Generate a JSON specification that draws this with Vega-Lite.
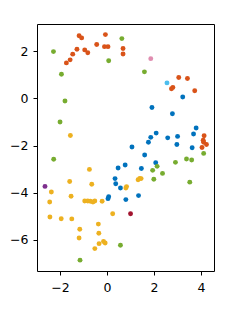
{
  "$schema": "https://vega.github.io/schema/vega-lite/v6.json",
  "autosize": "none",
  "width": 177,
  "height": 247,
  "padding": {"left": 37, "top": 24, "right": 29, "bottom": 43},
  "background": "white",
  "config": {
    "view": {"stroke": "black", "strokeWidth": 1},
    "axis": {"grid": false, "domain": false, "tickColor": "black", "tickSize": 4, "labelColor": "black", "labelFont": "DejaVu Sans", "labelFontSize": 12.5},
    "axisX": {"labelPadding": 6},
    "axisY": {"labelPadding": 5}
  },
  "data": {"values": [
    {"x": -2.28, "y": 1.99, "c": "g"},
    {"x": -1.94, "y": 1.03, "c": "g"},
    {"x": -1.79, "y": -0.11, "c": "g"},
    {"x": -2.0, "y": -1.0, "c": "g"},
    {"x": 0.63, "y": 2.54, "c": "g"},
    {"x": 0.07, "y": 1.6, "c": "g"},
    {"x": 1.59, "y": 1.13, "c": "g"},
    {"x": 1.86, "y": 1.69, "c": "p"},
    {"x": -1.73, "y": 1.51, "c": "o"},
    {"x": -1.57, "y": 1.64, "c": "o"},
    {"x": -1.46, "y": 1.88, "c": "o"},
    {"x": -1.28, "y": 2.09, "c": "o"},
    {"x": -1.19, "y": 2.66, "c": "o"},
    {"x": -1.08, "y": 2.57, "c": "o"},
    {"x": -0.95, "y": 2.06, "c": "o"},
    {"x": -0.82, "y": 1.94, "c": "o"},
    {"x": -0.44, "y": 2.29, "c": "o"},
    {"x": -0.07, "y": 2.71, "c": "o"},
    {"x": -0.11, "y": 2.2, "c": "o"},
    {"x": 0.04, "y": 2.2, "c": "o"},
    {"x": 0.68, "y": 2.12, "c": "o"},
    {"x": 0.68, "y": 1.89, "c": "o"},
    {"x": 3.05, "y": 0.89, "c": "o"},
    {"x": 3.42, "y": 0.85, "c": "o"},
    {"x": 2.8, "y": 0.47, "c": "o"},
    {"x": 2.74, "y": 0.41, "c": "o"},
    {"x": 3.73, "y": 0.33, "c": "o"},
    {"x": 2.55, "y": 0.66, "c": "lb"},
    {"x": 3.22, "y": 0.06, "c": "b"},
    {"x": 1.91, "y": -0.38, "c": "b"},
    {"x": 2.78, "y": -0.65, "c": "b"},
    {"x": 3.79, "y": -1.25, "c": "b"},
    {"x": -1.56, "y": -1.57, "c": "y"},
    {"x": -2.27, "y": -2.58, "c": "g"},
    {"x": 3.68, "y": -1.51, "c": "b"},
    {"x": 2.09, "y": -1.47, "c": "b"},
    {"x": 1.86, "y": -1.65, "c": "b"},
    {"x": 1.76, "y": -1.86, "c": "b"},
    {"x": 2.58, "y": -1.67, "c": "b"},
    {"x": 3.0, "y": -1.61, "c": "b"},
    {"x": 2.97, "y": -1.95, "c": "b"},
    {"x": 3.62, "y": -2.09, "c": "b"},
    {"x": 1.06, "y": -2.06, "c": "b"},
    {"x": 1.6, "y": -2.4, "c": "b"},
    {"x": 2.07, "y": -2.73, "c": "b"},
    {"x": 0.77, "y": -2.82, "c": "b"},
    {"x": 0.47, "y": -2.95, "c": "b"},
    {"x": 1.46, "y": -2.97, "c": "b"},
    {"x": 0.34, "y": -3.4, "c": "b"},
    {"x": 0.37, "y": -3.62, "c": "b"},
    {"x": 0.57, "y": -3.8, "c": "b"},
    {"x": 0.8, "y": -4.29, "c": "b"},
    {"x": 1.34, "y": -4.12, "c": "b"},
    {"x": 0.07, "y": -4.17, "c": "b"},
    {"x": 0.04, "y": -4.25, "c": "b"},
    {"x": 4.13, "y": -1.58, "c": "o"},
    {"x": 4.09, "y": -1.77, "c": "o"},
    {"x": 4.11, "y": -1.86, "c": "o"},
    {"x": 4.23, "y": -1.95, "c": "o"},
    {"x": 4.04, "y": -2.08, "c": "o"},
    {"x": 4.11, "y": -2.33, "c": "g"},
    {"x": 3.38, "y": -2.57, "c": "g"},
    {"x": 3.6, "y": -2.61, "c": "g"},
    {"x": 2.91, "y": -2.71, "c": "g"},
    {"x": 2.13, "y": -2.88, "c": "g"},
    {"x": 1.94, "y": -3.05, "c": "g"},
    {"x": 2.36, "y": -3.18, "c": "g"},
    {"x": 1.99, "y": -3.43, "c": "g"},
    {"x": 3.52, "y": -3.55, "c": "g"},
    {"x": -0.75, "y": -3.01, "c": "y"},
    {"x": -1.59, "y": -3.52, "c": "y"},
    {"x": -0.65, "y": -3.64, "c": "y"},
    {"x": -2.37, "y": -3.97, "c": "y"},
    {"x": -2.44, "y": -4.39, "c": "y"},
    {"x": -1.53, "y": -4.15, "c": "y"},
    {"x": -0.95, "y": -4.35, "c": "y"},
    {"x": -0.82, "y": -4.35, "c": "y"},
    {"x": -0.71, "y": -4.36, "c": "y"},
    {"x": -0.6, "y": -4.39, "c": "y"},
    {"x": -0.52, "y": -4.35, "c": "y"},
    {"x": -0.21, "y": -4.36, "c": "y"},
    {"x": 0.83, "y": -3.74, "c": "y"},
    {"x": 0.8, "y": -3.8, "c": "y"},
    {"x": 1.32, "y": -3.45, "c": "y"},
    {"x": 1.39, "y": -3.39, "c": "y"},
    {"x": 1.45, "y": -3.4, "c": "y"},
    {"x": -2.43, "y": -5.03, "c": "y"},
    {"x": -1.95, "y": -5.1, "c": "y"},
    {"x": -1.5, "y": -5.11, "c": "y"},
    {"x": 0.24, "y": -4.89, "c": "y"},
    {"x": -0.37, "y": -5.33, "c": "y"},
    {"x": -1.16, "y": -5.55, "c": "y"},
    {"x": -1.19, "y": -5.92, "c": "y"},
    {"x": -0.35, "y": -5.72, "c": "y"},
    {"x": -0.34, "y": -6.16, "c": "y"},
    {"x": -0.15, "y": -6.07, "c": "y"},
    {"x": -0.08, "y": -6.13, "c": "y"},
    {"x": -0.52, "y": -6.37, "c": "y"},
    {"x": -2.64, "y": -3.73, "c": "pu"},
    {"x": 1.0, "y": -4.89, "c": "r"},
    {"x": 0.57, "y": -6.23, "c": "g"},
    {"x": -1.15, "y": -6.86, "c": "g"}
  ]},
  "mark": {"type": "circle", "size": 24, "opacity": 1},
  "encoding": {
    "x": {"field": "x", "type": "quantitative", "scale": {"domain": [-2.98, 4.55], "nice": false, "zero": false}, "axis": {"values": [-2, 0, 2, 4], "title": null}},
    "y": {"field": "y", "type": "quantitative", "scale": {"domain": [-7.32, 3.16], "nice": false, "zero": false}, "axis": {"values": [-6, -4, -2, 0, 2], "title": null}},
    "color": {"field": "c", "type": "nominal", "legend": null, "scale": {"domain": ["b", "o", "y", "pu", "g", "lb", "r", "p"], "range": ["#0072BD", "#D95319", "#EDB120", "#7E2F8E", "#77AC30", "#4DBEEE", "#A2142F", "#E08DB0"]}}
  }
}
